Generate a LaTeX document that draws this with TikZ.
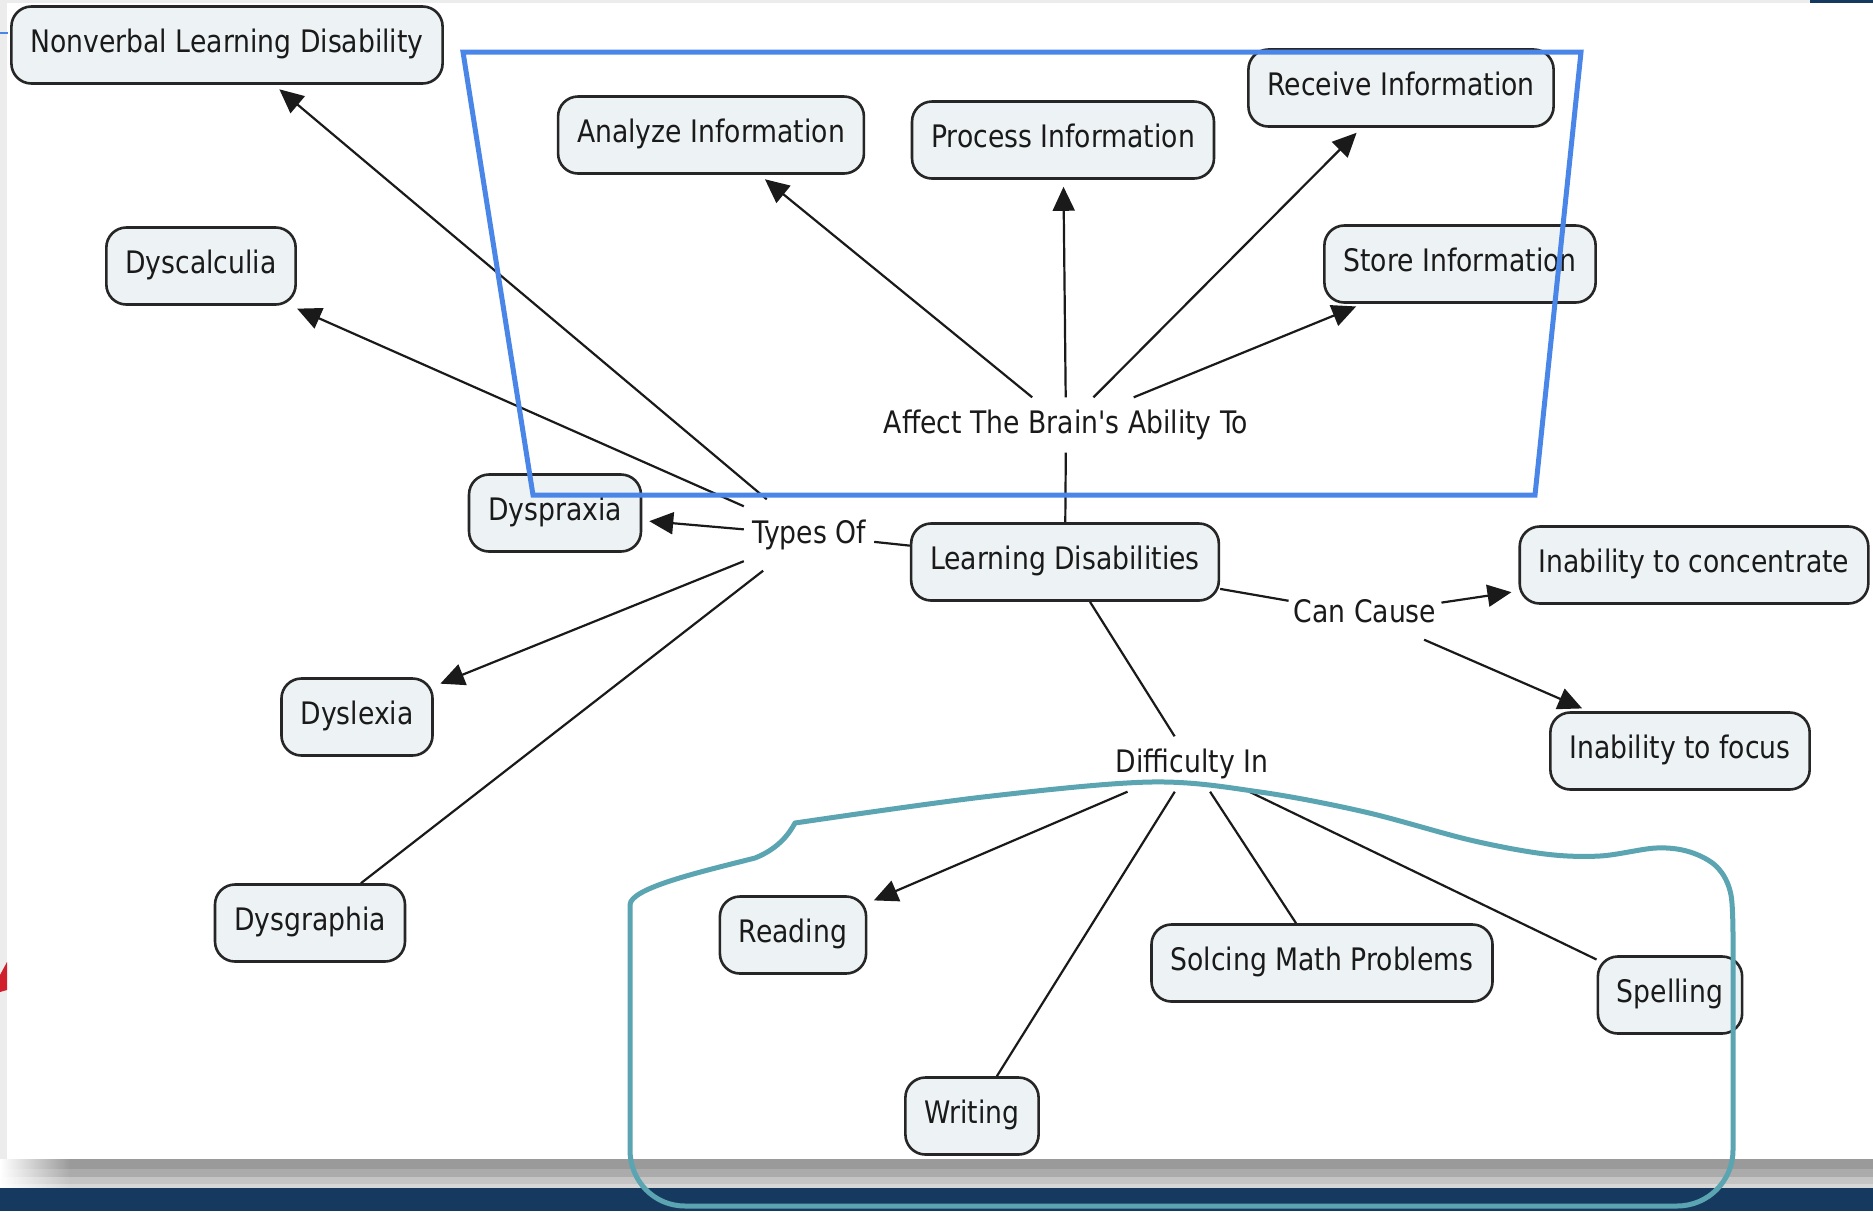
\documentclass[tikz,border=0pt]{standalone}
\usepackage{fontspec}
\setmainfont{DejaVu Sans}[FakeStretch=0.86, Ligatures=TeXOff]
\usetikzlibrary{arrows.meta}
\definecolor{boxfill}{HTML}{EDF2F4}
\definecolor{boxline}{HTML}{262626}
\definecolor{ink}{HTML}{1A1A1A}
\definecolor{frameblue}{HTML}{4A86E8}
\definecolor{frameteal}{HTML}{5AA5B1}
\definecolor{navy}{HTML}{163A5F}
\definecolor{slidered}{HTML}{D0202E}
\definecolor{bandA}{HTML}{9A9A9A}
\definecolor{bandB}{HTML}{ABABAB}
\definecolor{bandC}{HTML}{C4C4C4}
\definecolor{bandD}{HTML}{D6D6D6}
\definecolor{edgegrey}{HTML}{ECECEC}
\begin{document}
\begin{tikzpicture}[x=1pt,y=-1pt,
  concept/.style={draw=boxline, fill=boxfill, line width=2.6pt, rounded corners=20pt,
    minimum height=77pt, inner xsep=19pt, inner ysep=0pt, text=ink,
    font=\fontsize{31}{36}\selectfont, text height=22.6pt, text depth=7.4pt},
  linklabel/.style={inner xsep=5pt, inner ysep=12pt, text=ink,
    font=\fontsize{31}{36}\selectfont, text height=23.5pt, text depth=7.5pt},
  link/.style={draw=ink, line width=2.2pt},
  arrowlink/.style={link, -{Triangle[length=24pt,width=22pt]}, shorten >=7pt},
  frameline/.style={line width=5pt, line join=round, line cap=round},
]
% ---- background (slide screenshot) ----
\useasboundingbox (0,0) rectangle (1873,1211);
\fill[white] (0,0) rectangle (1873,1211);
\fill[edgegrey] (0,0) rectangle (7,1159);
\fill[edgegrey] (7,0) rectangle (1873,3);
\fill[navy] (1810,0) rectangle (1873,3);
\fill[slidered] (0,975) -- (7,962) -- (7,990) -- (0,992) -- cycle;
\draw[frameblue, line width=1.5pt] (0,33) -- (8,33);
\shade[left color=white, right color=bandA] (0,1159) rectangle (70,1169);
\shade[left color=white, right color=bandB] (0,1169) rectangle (70,1177);
\shade[left color=white, right color=bandC] (0,1177) rectangle (70,1184);
\shade[left color=white, right color=bandD] (0,1184) rectangle (70,1188);
\fill[bandA] (70,1159) rectangle (1873,1169);
\fill[bandB] (70,1169) rectangle (1873,1177);
\fill[bandC] (70,1177) rectangle (1873,1184);
\fill[bandD] (70,1184) rectangle (1873,1188);
\fill[navy] (0,1188) rectangle (1873,1211);

% ---- concepts ----
\node[concept] (nonverbal) at (227,45) {Nonverbal Learning Disability};
\node[concept] (dyscalc) at (201,266) {Dyscalculia};
\node[concept] (dyspraxia) at (555,513) {Dyspraxia};
\node[concept] (dyslexia) at (357,717) {Dyslexia};
\node[concept] (dysgraphia) at (310,923) {Dysgraphia};
\node[concept] (analyze) at (711,135) {Analyze Information};
\node[concept] (process) at (1063,140) {Process Information};
\node[concept] (receive) at (1401,88) {Receive Information};
\node[concept] (store) at (1460,264) {Store Information};
\node[concept] (ld) at (1065,562) {Learning Disabilities};
\node[concept] (conc) at (1694,565) {Inability to concentrate};
\node[concept] (focus) at (1680,751) {Inability to focus};
\node[concept] (reading) at (793,935) {Reading};
\node[concept] (writing) at (972,1116) {Writing};
\node[concept] (solcing) at (1322,963) {Solcing Math Problems};
\node[concept] (spelling) at (1670,995) {Spelling};

% ---- linking phrases ----
\node[linklabel, inner xsep=8pt, inner ysep=20pt] (typesof) at (809,535) {Types Of};
\node[linklabel] (affect) at (1066,425) {Affect The Brain's Ability To};
\node[linklabel, inner ysep=10pt] (cancause) at (1365,614) {Can Cause};
\node[linklabel] (diff) at (1192,764) {Difficulty In};

% ---- connectors ----
\draw[arrowlink] (typesof) -- (nonverbal);
\draw[arrowlink] (typesof) -- (dyscalc);
\draw[arrowlink] (typesof) -- (dyspraxia);
\draw[arrowlink] (typesof) -- (dyslexia);
\draw[link] (typesof) -- (dysgraphia);
\draw[link] (typesof) -- (ld);

\draw[link] (ld) -- (affect);
\draw[arrowlink] (affect) -- (analyze);
\draw[arrowlink] (affect) -- (process);
\draw[arrowlink] (affect) -- (receive);
\draw[arrowlink] (affect) -- (store);

\draw[link] (ld) -- (cancause);
\draw[arrowlink] (cancause) -- (conc);
\draw[arrowlink] (cancause) -- (focus);

\draw[link] (ld) -- (diff);
\draw[arrowlink] (diff) -- (reading);
\draw[link] (diff) -- (writing);
\draw[link] (diff) -- (solcing);
\draw[link] (diff) -- (spelling);

% ---- hand-drawn highlight frames ----
\draw[frameblue, frameline, line join=miter] (463,52) -- (1581,52) -- (1535,495) -- (533,495) -- cycle;
\draw[frameteal, frameline]
  plot[smooth, tension=0.55] coordinates {(795,823) (983,797) (1151,782) (1260,792) (1365,812)
     (1470,840) (1545,854) (1600,856) (1656,848) (1690,852) (1717,867) (1731,895) (1733,950)}
  -- (1733,1150) .. controls (1733,1181) and (1708,1206) .. (1677,1206)
  -- (685,1206) .. controls (654,1206) and (630,1181) .. (630,1150)
  -- (630,905) .. controls (630,888) and (700,872) .. (755,858)
  .. controls (780,848) and (790,832) .. (795,823);
\end{tikzpicture}
\end{document}
